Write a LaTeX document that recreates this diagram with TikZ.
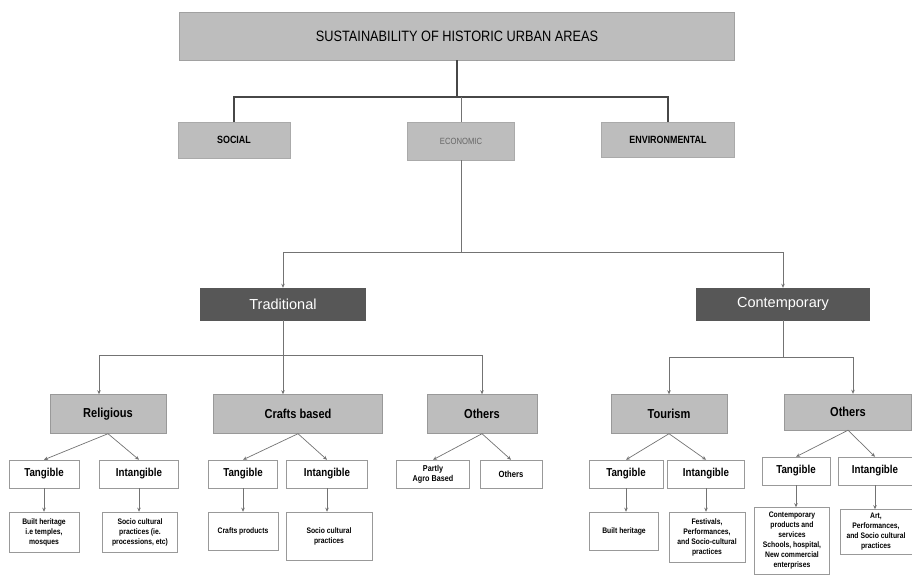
\documentclass[tikz,border=0pt]{standalone}
\usepackage{fontspec}
\setmainfont{Liberation Sans}
\newfontfamily\narrowsf[FakeStretch=0.85]{Liberation Sans}
\usetikzlibrary{arrows.meta}
\definecolor{boxgray}{HTML}{BDBDBD}
\definecolor{darkgray}{HTML}{575757}

\begin{document}
\begin{tikzpicture}[x=1pt, y=-1pt,
  >={Stealth[length=4pt,width=3.5pt]},
  size/.style 2 args={minimum width=#1pt, minimum height=#2pt, inner sep=1pt, align=center},
  titlebox/.style={fill=boxgray, draw=boxgray!85!black, font=\narrowsf\fontsize{15}{17}\selectfont},
  catbox/.style={fill=boxgray, draw=boxgray!90!black, font=\narrowsf\bfseries\fontsize{10.5}{12}\selectfont},
  branch/.style={fill=darkgray, draw=darkgray, text=white, font=\fontsize{14.5}{16}\selectfont},
  sectorbox/.style={fill=boxgray, draw=black!40, font=\narrowsf\bfseries\fontsize{13}{15}\selectfont},
  typebox/.style={fill=white, draw=black!40, line width=0.5pt, font=\narrowsf\bfseries\fontsize{11.5}{13}\selectfont},
  leafbox/.style={fill=white, draw=black!40, line width=0.5pt, font=\narrowsf\bfseries\fontsize{8}{10}\selectfont},
  mainline/.style={color=black!72, line width=1.2pt},
  subline/.style={color=black!55, line width=0.7pt}]
  \useasboundingbox (0,0) rectangle (912,576);

  \node[titlebox, size={555}{48}] (title) at (457,36) {SUSTAINABILITY OF HISTORIC URBAN AREAS};
  \node[catbox, size={112}{36}] (social) at (234,140) {SOCIAL};
  \node[catbox, size={107}{38}, text=black!60, font=\narrowsf\fontsize{9}{10}\selectfont] (econ) at (461,141) {ECONOMIC};
  \node[catbox, size={133}{35}] (env) at (668,140) {ENVIRONMENTAL};

  \node[branch, size={165}{32}] (trad) at (283,304) {Traditional};
  \node[branch, size={173}{32}] (contemp) at (783,304) {Contemporary};

  \node[sectorbox, size={116}{39}] (relig) at (108,414) {Religious};
  \node[sectorbox, size={169}{39}] (crafts) at (298,414) {Crafts based};
  \node[sectorbox, size={110}{39}] (oth1) at (482,414) {Others};
  \node[sectorbox, size={116}{39}] (tour) at (669,414) {Tourism};
  \node[sectorbox, size={127}{36}] (oth2) at (848,412) {Others};

  \node[typebox, size={70}{28}] (relT) at (44,474) {Tangible};
  \node[typebox, size={79}{28}] (relI) at (139,474) {Intangible};
  \node[typebox, size={69}{28}] (crT) at (243,474) {Tangible};
  \node[typebox, size={81}{28}] (crI) at (327,474) {Intangible};
  \node[leafbox, size={73}{28}, font=\narrowsf\bfseries\fontsize{8.5}{10}\selectfont] (agro) at (433,474) {Partly\\Agro Based};
  \node[leafbox, size={62}{28}, font=\narrowsf\bfseries\fontsize{9}{10}\selectfont] (oth1o) at (511,474) {Others};
  \node[typebox, size={74}{28}] (toT) at (626,474) {Tangible};
  \node[typebox, size={77}{28}] (toI) at (706,474) {Intangible};
  \node[typebox, size={68}{28}] (o2T) at (796,471) {Tangible};
  \node[typebox, size={74}{28}] (o2I) at (875,471) {Intangible};

  \node[leafbox, size={70}{40}] (relTb) at (44,532) {Built heritage\\i.e temples,\\mosques};
  \node[leafbox, size={75}{40}] (relIb) at (140,532) {Socio cultural\\practices (ie.\\processions, etc)};
  \node[leafbox, size={70}{38}] (crTb) at (243,531) {Crafts products};
  \node[leafbox, size={86}{48}] (crIb) at (329,536) {Socio cultural\\practices};
  \node[leafbox, size={69}{38}] (toTb) at (624,531) {Built heritage};
  \node[leafbox, size={76}{50}] (toIb) at (707,537) {Festivals,\\Performances,\\and Socio-cultural\\practices};
  \node[leafbox, size={75}{67}] (o2Tb) at (792,541) {Contemporary\\products and\\services\\Schools, hospital,\\New commercial\\enterprises};
  \node[leafbox, size={72}{45}] (o2Ib) at (876,532) {Art,\\Performances,\\and Socio cultural\\practices};

  \coordinate (t1) at (457,97);
  \coordinate (e1) at (461,252);
  \coordinate (r1) at (283,355);
  \coordinate (c1) at (783,357);

  \draw[mainline] (title.south) -- (t1);
  \draw[mainline] (social.north) |- (t1) -| (env.north);
  \draw[subline] (t1 -| econ.north) -- (econ.north);

  \draw[subline] (econ.south) -- (e1);
  \draw[subline,->] (e1) -| (trad.north);
  \draw[subline,->] (e1) -| (contemp.north);

  \draw[subline] (trad.south) -- (r1);
  \draw[subline,->] (r1) -| ([xshift=-9pt]relig.north);
  \draw[subline,->] (r1) -- (r1 |- crafts.north);
  \draw[subline,->] (r1) -| (oth1.north);

  \draw[subline] (contemp.south) -- (c1);
  \draw[subline,->] (c1) -| (tour.north);
  \draw[subline,->] (c1) -| ([xshift=5pt]oth2.north);

  \path[subline,->]
  (relig.south) edge (relT.north) edge (relI.north)
  (crafts.south) edge (crT.north) edge (crI.north)
  (oth1.south) edge (agro.north) edge (oth1o.north)
  (tour.south) edge (toT.north) edge (toI.north)
  (oth2.south) edge (o2T.north) edge (o2I.north)
  ;
  \path[subline,->]
  (relT.south) edge (relT.south |- relTb.north)
  (relI.south) edge (relI.south |- relIb.north)
  (crT.south) edge (crT.south |- crTb.north)
  (crI.south) edge (crI.south |- crIb.north)
  (toT.south) edge (toT.south |- toTb.north)
  (toI.south) edge (toI.south |- toIb.north)
  (o2T.south) edge (o2T.south |- o2Tb.north)
  (o2I.south) edge (o2I.south |- o2Ib.north)
  ;
\end{tikzpicture}
\end{document}
